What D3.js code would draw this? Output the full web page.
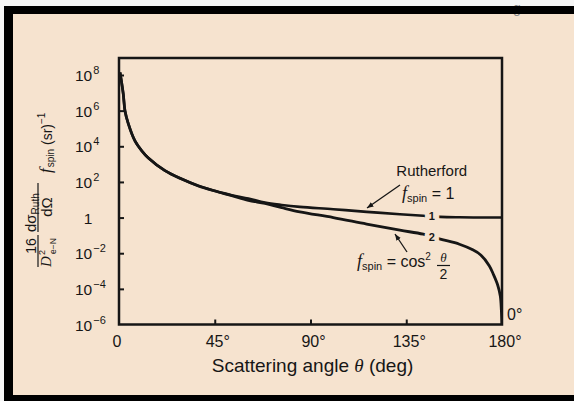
<!DOCTYPE html>
<html>
<head>
<meta charset="utf-8">
<script src="https://cdn.jsdelivr.net/npm/d3@7"></script>
<style>
html, body { margin: 0; padding: 0; background: #f6f6f6; }
svg { display: block; font-family: "Liberation Sans", Arial, sans-serif; }
</style>
</head>
<body>
<div id="chart"></div>
<script>
// values (angle in degrees, cross section in sr^-1)
const rutherfordAngle = [0.5, 2, 2.8, 4.4, 7.5, 10.7, 13.8, 21.6, 29.5, 37.3, 45, 53, 60.8, 68.6, 76.5, 85, 100.7, 116.4, 132, 143, 151, 160, 170, 180];
const rutherfordValue = [1.4e8, 8.7e6, 1e6, 1.8e5, 2.0e4, 5.6e3, 2.2e3, 430, 145, 60, 32, 18, 11.7, 6.9, 5.1, 4.0, 2.95, 2.1, 1.55, 1.26, 1.1, 1.04, 1.01, 1];

const spinAngle = [0.5, 2, 2.8, 4.4, 7.5, 10.7, 13.8, 21.6, 29.5, 37.3, 45, 53, 60.8, 68.6, 76.5, 85, 100.7, 116.4, 132, 143, 151, 160, 166, 170, 174, 176, 178, 179.2, 179.7, 179.95];
const spinValue = [1.4e8, 8.7e6, 1e6, 1.8e5, 2.0e4, 5.6e3, 2.2e3, 430, 145, 60, 31, 17, 9.3, 6.2, 3.6, 2.1, 1.0, 0.43, 0.195, 0.117, 0.062, 0.032, 0.016, 0.008, 0.002, 6.3e-4, 1.6e-4, 4e-5, 6.3e-6, 1e-6];

const xTicks = [0, 45, 90, 135, 180];
const xTickLabels = ["0", "45°", "90°", "135°", "180°"];
const yTicks = [1e8, 1e6, 1e4, 1e2, 1, 1e-2, 1e-4, 1e-6];
const yTickExp = ["8", "6", "4", "2", "", "−2", "−4", "−6"];

const width = 574, height = 401;
const bg = "#f6e3cf", ink = "#161616";
const plotLeft = 119, plotRight = 502, plotTop = 58, plotBottom = 324.5;

const svg = d3.select("#chart")
    .append("svg")
    .attr("width", width)
    .attr("height", height);

// page background and black frame
svg.append("rect").attr("x", 13).attr("y", 14).attr("width", width - 13).attr("height", 381).attr("fill", bg);
svg.append("text").attr("x", 513).attr("y", 13).attr("font-size", 14).attr("fill", "#888").text("g");
svg.append("rect").attr("x", 4).attr("y", 6).attr("width", width - 4).attr("height", 8).attr("fill", "#000");
svg.append("rect").attr("x", 4).attr("y", 6).attr("width", 9).attr("height", height - 6).attr("fill", "#000");
svg.append("rect").attr("x", 4).attr("y", 395).attr("width", width - 4).attr("height", 6).attr("fill", "#000");

const x = d3.scaleLinear().domain([0, 180]).range([plotLeft, plotRight]);
const y = d3.scaleLog().domain([1e-6, 9e8]).range([plotBottom, plotTop]);

const defs = svg.append("defs");
defs.append("clipPath").attr("id", "plot")
    .append("rect").attr("x", plotLeft).attr("y", plotTop)
    .attr("width", plotRight - plotLeft).attr("height", plotBottom - plotTop);

// arrow head for leader lines
defs.append("marker")
    .attr("id", "arrow")
    .attr("viewBox", "0 0 10 10")
    .attr("refX", 10).attr("refY", 5)
    .attr("markerWidth", 5).attr("markerHeight", 5)
    .attr("orient", "auto")
    .append("path").attr("d", "M0,1L10,5L0,9Z").attr("fill", ink);

// ticks (pointing inward)
const xAxis = svg.append("g")
    .attr("transform", `translate(0,${plotBottom})`)
    .call(d3.axisBottom(x).tickValues(xTicks.slice(1, -1)).tickSizeInner(-5).tickSizeOuter(0).tickFormat(""));
const yAxis = svg.append("g")
    .attr("transform", `translate(${plotLeft},0)`)
    .call(d3.axisLeft(y).tickValues(yTicks.slice(0, -1)).tickSizeInner(-5).tickSizeOuter(0).tickFormat(""));
[xAxis, yAxis].forEach(a => {
    a.select(".domain").remove();
    a.selectAll("line").attr("stroke", ink).attr("stroke-width", 2);
});

// curves
const lineOf = (angles, values) => d3.line()
    .x((d, i) => x(angles[i]))
    .y(d => y(d))
    .curve(d3.curveCatmullRom.alpha(0.5))(values);

const curves = svg.append("g").attr("clip-path", "url(#plot)");
curves.append("path").attr("d", lineOf(rutherfordAngle, rutherfordValue))
    .attr("fill", "none").attr("stroke", ink).attr("stroke-width", 2.6);
curves.append("path").attr("d", lineOf(spinAngle, spinValue))
    .attr("fill", "none").attr("stroke", ink).attr("stroke-width", 2.8);

// plot frame
svg.append("rect")
    .attr("x", plotLeft).attr("y", plotTop)
    .attr("width", plotRight - plotLeft).attr("height", plotBottom - plotTop)
    .attr("fill", "none").attr("stroke", ink).attr("stroke-width", 2.5);

// curve labels 1 and 2, cut into the lines
[["1", 147, 1.2], ["2", 147, 0.085]].forEach(([t, a, v]) => {
    svg.append("text")
        .attr("x", x(a)).attr("y", y(v) + 4)
        .attr("text-anchor", "middle")
        .attr("font-size", 11).attr("font-weight", "bold")
        .attr("fill", ink)
        .attr("stroke", bg).attr("stroke-width", 9).attr("paint-order", "stroke")
        .text(t);
});

// x tick labels
svg.append("g").selectAll("text")
    .data(xTicks)
    .join("text")
    .attr("x", (d, i) => x(d) + (i === 0 ? -2 : 3))
    .attr("y", 347)
    .attr("text-anchor", "middle")
    .attr("font-size", 16)
    .attr("fill", ink)
    .text((d, i) => xTickLabels[i]);

// y tick labels (powers of ten)
const yl = svg.append("g").selectAll("text")
    .data(yTicks)
    .join("text")
    .attr("x", (d, i) => yTickExp[i] ? 75 : 88)
    .attr("y", d => y(d) + 6)
    .attr("text-anchor", (d, i) => yTickExp[i] ? "start" : "middle")
    .attr("font-size", 15.5)
    .attr("fill", ink);
yl.append("tspan").text((d, i) => yTickExp[i] ? "10" : "1");
yl.append("tspan").attr("font-size", 11).attr("dy", -7).attr("dx", 1).text((d, i) => yTickExp[i]);

// 0° at the end of the spin curve
svg.append("text").attr("x", x(180) + 5).attr("y", 320)
    .attr("font-size", 16).attr("fill", ink).text("0°");

// x axis title
const xt = svg.append("text")
    .attr("x", (plotLeft + plotRight) / 2 + 2).attr("y", 372)
    .attr("text-anchor", "middle")
    .attr("font-size", 19).attr("fill", ink);
xt.append("tspan").text("Scattering angle ");
xt.append("tspan").attr("font-family", "Liberation Serif, serif").attr("font-style", "italic").text("θ");
xt.append("tspan").text(" (deg)");

// y axis title, built piece by piece in rotated frame
const yt = svg.append("g").attr("transform", "translate(38,190) rotate(-90)").attr("fill", ink);
yt.append("text").attr("x", -56).attr("y", -2).attr("text-anchor", "middle").attr("font-size", 14).text("16");
yt.append("line").attr("x1", -77).attr("x2", -45).attr("y1", 0).attr("y2", 0).attr("stroke", ink).attr("stroke-width", 1.2);
yt.append("text").attr("x", -77).attr("y", 13).attr("font-size", 15)
    .attr("font-family", "Liberation Serif, serif").attr("font-style", "italic").text("D");
yt.append("text").attr("x", -65).attr("y", 7).attr("font-size", 9).text("2");
yt.append("text").attr("x", -64).attr("y", 18).attr("font-size", 8.5).text("e−N");

const num = yt.append("text").attr("x", -42).attr("y", -2).attr("font-size", 15);
num.append("tspan").text("dσ");
num.append("tspan").attr("font-size", 10).attr("dy", 3).text("Ruth");
yt.append("line").attr("x1", -42).attr("x2", 7).attr("y1", 0).attr("y2", 0).attr("stroke", ink).attr("stroke-width", 1.2);
yt.append("text").attr("x", -17).attr("y", 14).attr("text-anchor", "middle").attr("font-size", 15).text("dΩ");

const fs = yt.append("text").attr("x", 17).attr("y", 13).attr("font-size", 17);
fs.append("tspan").attr("font-family", "Liberation Serif, serif").attr("font-style", "italic").text("f");
fs.append("tspan").attr("font-size", 10).attr("dy", 3).attr("dx", 1).text("spin");
const sr = yt.append("text").attr("x", 45).attr("y", 14).attr("font-size", 14);
sr.append("tspan").text("(sr)");
sr.append("tspan").attr("font-size", 10).attr("dy", -7).text("−1");

// annotations
svg.append("text").attr("x", x(147)).attr("y", 176)
    .attr("text-anchor", "middle").attr("font-size", 15).attr("fill", ink).text("Rutherford");

const a1 = svg.append("text").attr("x", 402).attr("y", 199).attr("font-size", 16).attr("fill", ink);
a1.append("tspan").attr("font-family", "Liberation Serif, serif").attr("font-style", "italic").attr("font-size", 18).text("f");
a1.append("tspan").attr("font-size", 11).attr("dy", 3).text("spin");
a1.append("tspan").attr("dy", -3).text(" = 1");

const a2 = svg.append("text").attr("x", 357).attr("y", 267).attr("font-size", 16).attr("fill", ink);
a2.append("tspan").attr("font-family", "Liberation Serif, serif").attr("font-style", "italic").attr("font-size", 18).text("f");
a2.append("tspan").attr("font-size", 11).attr("dy", 3).text("spin");
a2.append("tspan").attr("dy", -3).text(" = cos");
a2.append("tspan").attr("font-size", 10).attr("dy", -7).text("2");
svg.append("text").attr("x", 443.5).attr("y", 262).attr("text-anchor", "middle").attr("font-size", 13)
    .attr("font-family", "Liberation Serif, serif").attr("font-style", "italic").attr("fill", ink).text("θ");
svg.append("line").attr("x1", 437).attr("x2", 450).attr("y1", 265.5).attr("y2", 265.5).attr("stroke", ink).attr("stroke-width", 1.2);
svg.append("text").attr("x", 443.5).attr("y", 279).attr("text-anchor", "middle").attr("font-size", 14).attr("fill", ink).text("2");

// leader lines pointing at the curves
svg.append("line").attr("x1", 400).attr("y1", 185).attr("x2", 367).attr("y2", 208)
    .attr("stroke", ink).attr("stroke-width", 1.3).attr("marker-end", "url(#arrow)");
svg.append("line").attr("x1", 407).attr("y1", 252).attr("x2", 395).attr("y2", 234)
    .attr("stroke", ink).attr("stroke-width", 1.3).attr("marker-end", "url(#arrow)");
</script>
</body>
</html>
